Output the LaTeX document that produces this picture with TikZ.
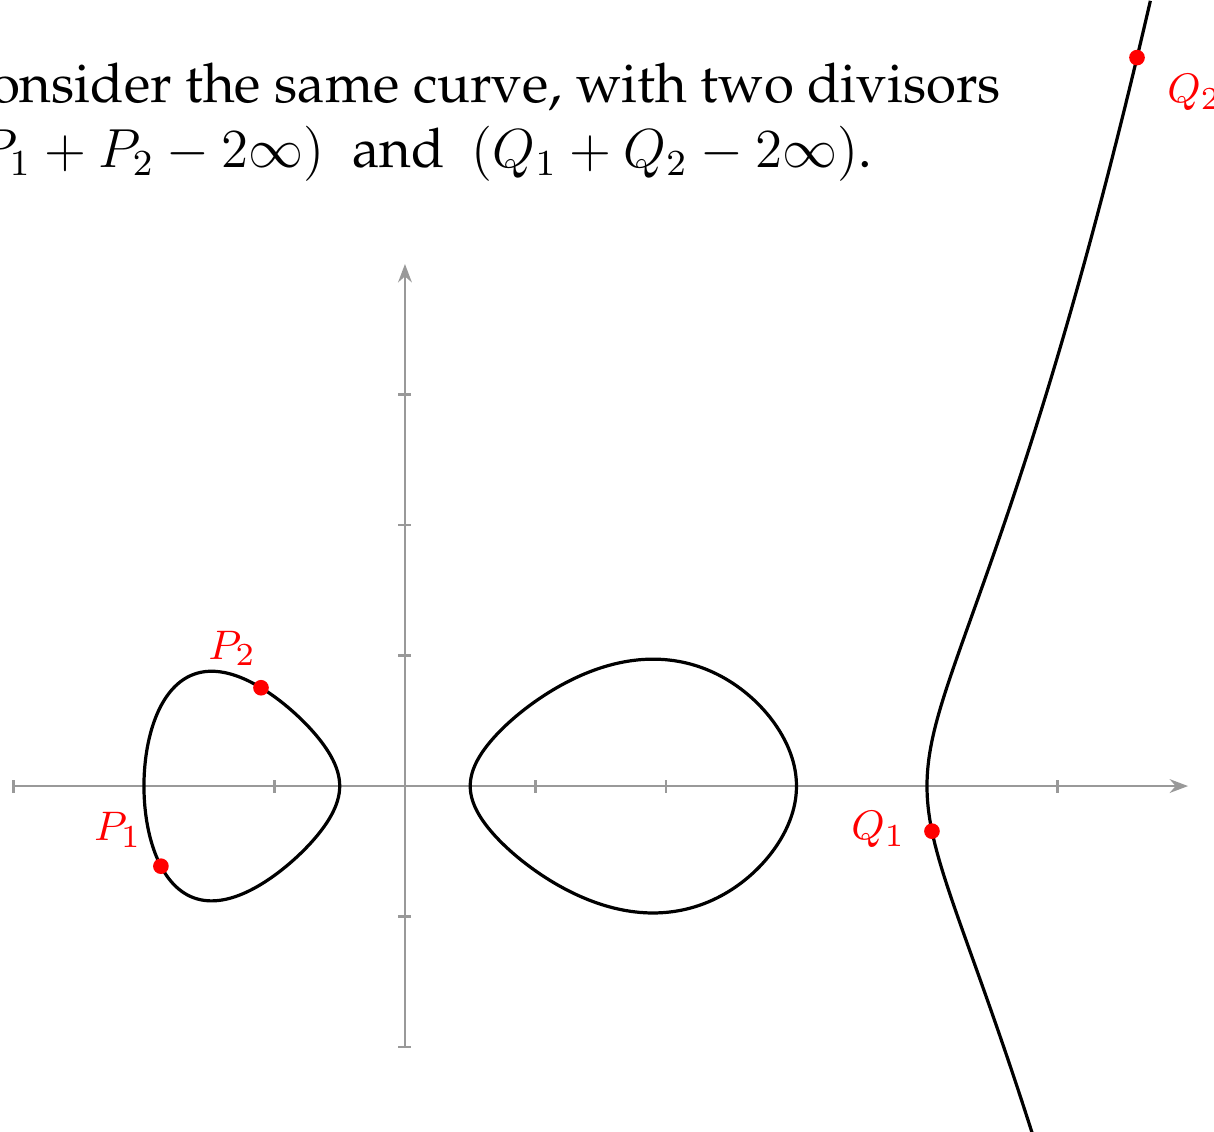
\documentclass[tikz,border=0pt]{standalone}
\usepackage[T1]{fontenc}
\renewcommand{\rmdefault}{ppl}
\usepackage{amsmath}
\usetikzlibrary{arrows.meta,calc}
\tikzset{
  axis/.style={gray!80, line width=0.5pt},
  curve/.style={black, line width=0.7pt},
  divpt/.style={circle, fill=red, inner sep=0pt, minimum size=0.12cm},
  divlbl/.style={text=red, inner sep=0pt, font=\fontsize{9.4}{11}\selectfont},
  caption/.style={inner sep=0pt, font=\fontsize{11.9}{14}\selectfont},
  declare function={hyp(\x)=(\x+2)*(\x*\x-0.25)*(\x-3)*(\x-4)/32;},
}

\begin{document}
\begin{tikzpicture}
  \useasboundingbox (-3.103,-2.644) rectangle (6.199,6.023);
  \clip (-3.103,-2.644) rectangle (6.199,6.023);

  % the text above the plot
  \node[caption, anchor=base east] (line1) at (4.575,5.234)
    {Consider the same curve, with two divisors};
  \node[caption, anchor=base east] (line2) at (3.586,4.743)
    {$(P_1+P_2-2\infty)$\ \ and\ \ $(Q_1+Q_2-2\infty)$.};

  % axes
  \draw[axis, -{Stealth[length=4pt,width=3pt]}] (-3,0) -- (6,0);
  \draw[axis, -{Stealth[length=4pt,width=3pt]}] (0,-2) -- (0,4);
  \foreach \x in {-3,-2,-1,1,2,3,4,5}
    \draw[axis] (\x,-0.05) -- (\x,0.05);
  \foreach \y in {-2,-1,1,2,3}
    \draw[axis] (-0.05,\y) -- (0.05,\y);

  % the curve y^2 = (x+2)(x^2-1/4)(x-3)(x-4)/32
  \draw[curve, variable=\t, samples=120, domain=0:360, smooth]
    plot ({-1.25+0.75*cos(\t)},
          {0.75*sin(\t)*sqrt(-(-1.25+0.75*cos(\t)-0.5)*(-1.25+0.75*cos(\t)-3)*(-1.25+0.75*cos(\t)-4)/32)}) -- cycle;
  \draw[curve, variable=\t, samples=120, domain=0:360, smooth]
    plot ({1.75+1.25*cos(\t)},
          {1.25*sin(\t)*sqrt(-(1.75+1.25*cos(\t)+2)*(1.75+1.25*cos(\t)+0.5)*(1.75+1.25*cos(\t)-4)/32)}) -- cycle;
  \draw[curve, variable=\s, samples=100, domain=-1:1.309, smooth]
    plot ({4+\s*\s},
          {\s*sqrt((4+\s*\s+2)*(4+\s*\s+0.5)*(4+\s*\s-0.5)*(4+\s*\s-3)/32)});

  % the points of the two divisors
  \node[divpt] (p1) at (-1.87,{-sqrt(hyp(-1.87))}) {};
  \node[divpt] (p2) at (-1.103,{sqrt(hyp(-1.103))}) {};
  \node[divpt] (q1) at (4.038,{-sqrt(hyp(4.038))}) {};
  \node[divpt] (q2) at (5.609,{sqrt(hyp(5.609))}) {};
  \node[divlbl] (lp1) at ($(p1)+(-0.33,0.28)$) {$P_1$};
  \node[divlbl] (lp2) at ($(p2)+(-0.22,0.30)$) {$P_2$};
  \node[divlbl] (lq1) at ($(q1)+(-0.41,0.01)$) {$Q_1$};
  \node[divlbl] (lq2) at ($(q2)+(0.44,-0.27)$) {$Q_2$};
\end{tikzpicture}
\end{document}
